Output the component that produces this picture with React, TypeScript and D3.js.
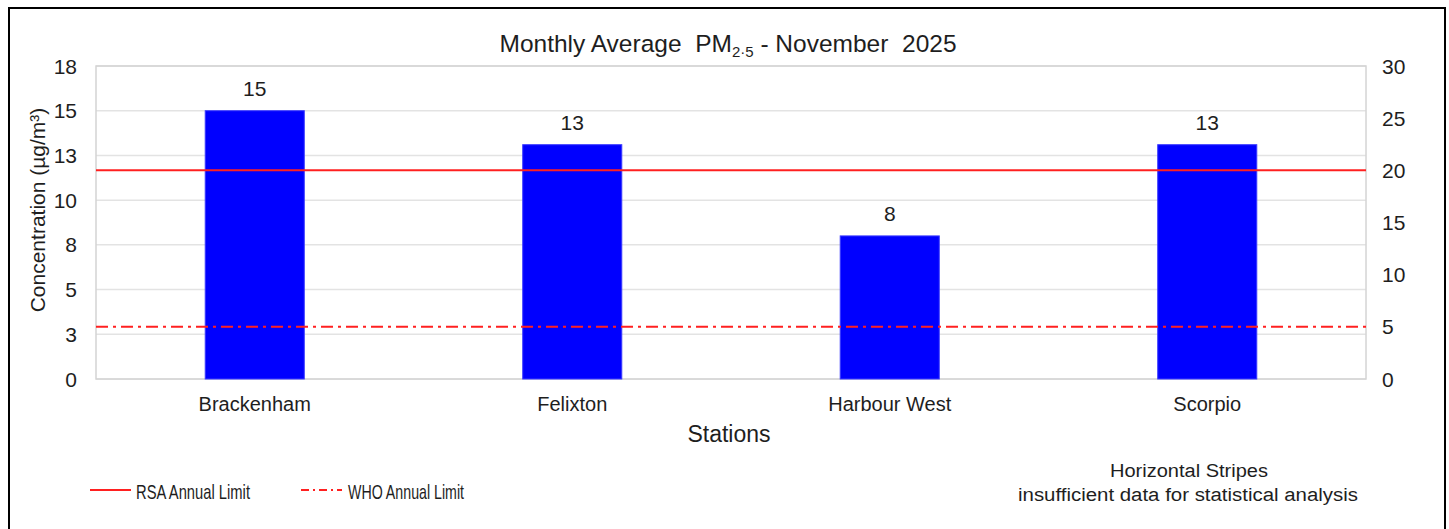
import React from 'react';
import * as d3 from 'd3';

// chart data
const stations = ['Brackenham', 'Felixton', 'Harbour West', 'Scorpio'];
const monthlyAvg = [15.0, 13.1, 8.0, 13.1];
const leftTicks = [0, 2.5, 5, 7.5, 10, 12.5, 15, 17.5];
const rightTicks = [0, 5, 10, 15, 20, 25, 30];
const rsaLimit = 20;
const whoLimit = 5;

const W = 1449;
const H = 529;
const plot = { left: 96, right: 1366, top: 66, bottom: 379 };
const FONT = "Arial, 'Liberation Sans', sans-serif";
const INK = '#1e1e1e';

const App = () => {
  const x = d3.scaleBand<string>()
    .domain(stations)
    .range([plot.left, plot.right])
    .padding(0);
  const barW = x.bandwidth() * 0.312;

  const yL = d3.scaleLinear().domain([0, 17.5]).range([plot.bottom, plot.top]);
  const yR = d3.scaleLinear().domain([0, 30]).range([plot.bottom, plot.top]);

  return (
    <svg width={W} height={H} style={{ position: 'absolute', left: 0, top: 0, background: '#fff' }}
      fontFamily={FONT}>
      {/* outer frame */}
      <rect x={9} y={8} width={1436} height={540} fill="#fff" stroke="#000" strokeWidth={2} />

      {/* title */}
      <text x={728} y={52} textAnchor="middle" fontSize={24.5} fill={INK}>
        Monthly Average{'\u00a0 '}PM<tspan fontSize={15} dy={5}>2·5</tspan>
        <tspan dy={-5}> - November{'\u00a0 '}2025</tspan>
      </text>

      {/* gridlines */}
      {leftTicks.map(t => (
        <line key={'g' + t} x1={plot.left} x2={plot.right} y1={yL(t)} y2={yL(t)}
          stroke="#e3e3e3" strokeWidth={1.5} />
      ))}
      <rect x={plot.left} y={plot.top} width={plot.right - plot.left} height={plot.bottom - plot.top}
        fill="none" stroke="#d4d4d4" strokeWidth={1.5} />

      {/* bars */}
      {stations.map((s, i) => {
        const cx = (x(s) as number) + x.bandwidth() / 2;
        return (
          <g key={s}>
            <rect x={cx - barW / 2} y={yL(monthlyAvg[i])} width={barW}
              height={plot.bottom - yL(monthlyAvg[i])} fill="#0000ff" stroke="#3a3aff" strokeWidth={1} />
            <text x={cx} y={yL(monthlyAvg[i]) - 14.5} textAnchor="middle" fontSize={21} fill={INK}>
              {Math.round(monthlyAvg[i])}
            </text>
            <text x={cx} y={411} textAnchor="middle" fontSize={20} fill={INK}>{s}</text>
          </g>
        );
      })}

      {/* limit lines */}
      <line x1={plot.left} x2={plot.right} y1={yR(rsaLimit)} y2={yR(rsaLimit)}
        stroke="#ff2020" strokeWidth={2} />
      <line x1={plot.left} x2={plot.right} y1={yR(whoLimit)} y2={yR(whoLimit)}
        stroke="#ff2020" strokeWidth={2} strokeDasharray="12,5,3,5" />

      {/* left axis */}
      {leftTicks.map(t => (
        <text key={'l' + t} x={77} y={yL(t) + 7.5} textAnchor="end" fontSize={21} fill={INK}>
          {Math.round(t)}
        </text>
      ))}
      {/* right axis */}
      {rightTicks.map(t => (
        <text key={'r' + t} x={1382} y={yR(t) + 7.5} textAnchor="start" fontSize={21} fill={INK}>
          {t}
        </text>
      ))}

      {/* axis titles */}
      <text transform="translate(45,210) rotate(-90)" textAnchor="middle" fontSize={21} fill={INK}>
        Concentration (µg/m³)
      </text>
      <text x={729} y={442} textAnchor="middle" fontSize={23} fill={INK}>Stations</text>

      {/* legend */}
      <line x1={90} x2={131} y1={490} y2={490} stroke="#ff2020" strokeWidth={2} />
      <text x={136} y={499} fontSize={21} fill={INK} textLength={114} lengthAdjust="spacingAndGlyphs">
        RSA Annual Limit
      </text>
      <line x1={301} x2={342} y1={490} y2={490} stroke="#ff2020" strokeWidth={2} strokeDasharray="8,4,2,4" />
      <text x={348} y={499} fontSize={21} fill={INK} textLength={116} lengthAdjust="spacingAndGlyphs">
        WHO Annual Limit
      </text>

      <text x={1110} y={477} fontSize={18} fill={INK} textLength={158} lengthAdjust="spacingAndGlyphs">
        Horizontal Stripes
      </text>
      <text x={1018} y={501} fontSize={18} fill={INK} textLength={340} lengthAdjust="spacingAndGlyphs">
        insufficient data for statistical analysis
      </text>
    </svg>
  );
};

export default App;
